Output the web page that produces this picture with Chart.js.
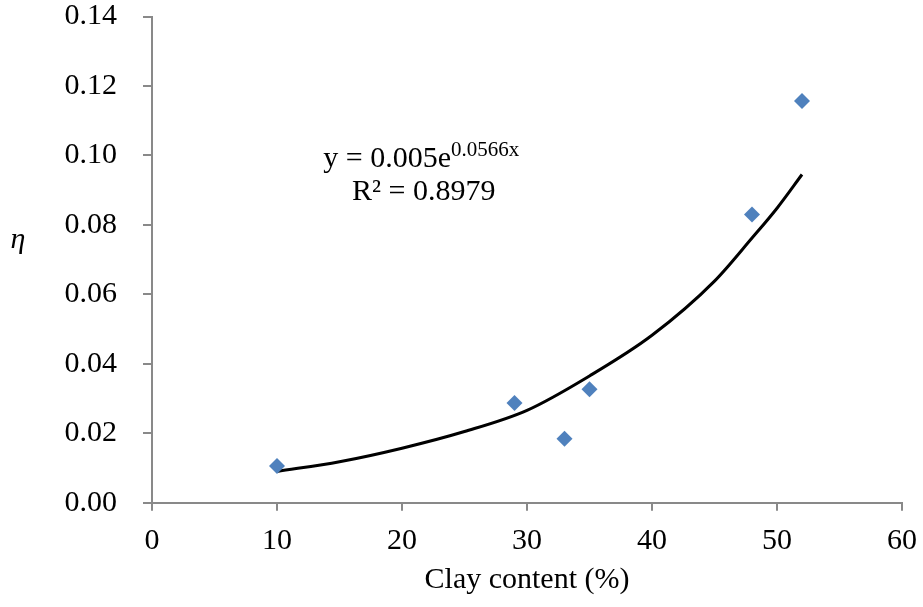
<!DOCTYPE html>
<html>
<head>
<meta charset="utf-8">
<script src="https://cdn.jsdelivr.net/npm/chart.js@4/dist/chart.umd.min.js"></script>
<style>
  html, body { margin: 0; padding: 0; background: #fff; }
  #wrap { width: 923px; height: 607px; }
</style>
</head>
<body>
<div id="wrap"><canvas id="etaChart"></canvas></div>
<script>
// measured points
const clay = [10.0, 29.0, 33.0, 35.0, 48.0, 52.0];
const eta = [0.0106, 0.0287, 0.0184, 0.0327, 0.083, 0.1157];

// trend line
const trendX = [10, 15, 20, 25, 30, 35, 40, 45, 48, 50, 52];
const trendY = [0.0090, 0.0118, 0.0157, 0.0205, 0.0266, 0.0365, 0.0482, 0.0638, 0.0762, 0.0848, 0.0945];

const eqText = 'y = 0.005e';
const eqExp = '0.0566x';
const r2Text = 'R\u00B2 = 0.8979';

const FONT = '"Liberation Serif", "Times New Roman", serif';
const FS = 30;
const AXIS_GREY = '#898989';

const ctx = document.getElementById('etaChart').getContext('2d');

// equation label + y title drawn by hand
const labels = {
    id: 'labels',
    afterDraw(chart) {
        const c = chart.ctx;
        const x = chart.scales.x, y = chart.scales.y;
        c.save();
        c.fillStyle = '#000';
        c.textBaseline = 'alphabetic';
        c.font = FS + 'px ' + FONT;
        const px = x.getPixelForValue(13.7), py = y.getPixelForValue(0.0966);
        c.textAlign = 'left';
        c.fillText(eqText, px, py);
        const w = c.measureText(eqText).width;
        c.font = '21px ' + FONT;
        c.fillText(eqExp, px + w, py - 11);
        c.font = FS + 'px ' + FONT;
        c.fillText(r2Text, x.getPixelForValue(16.0), y.getPixelForValue(0.0873));
        c.font = 'italic ' + FS + 'px ' + FONT;
        c.textAlign = 'center';
        c.textBaseline = 'middle';
        c.fillText('\u03B7', 18, 240);
        c.restore();
    }
};

new Chart(ctx, {
    type: 'scatter',
    data: {
        datasets: [{
            label: 'eta',
            data: clay.map((v, i) => ({ x: v, y: eta[i] })),
            pointStyle: 'rectRot',
            pointRadius: 8,
            pointHoverRadius: 8,
            backgroundColor: '#4F81BD',
            borderColor: '#4F81BD',
            borderWidth: 0,
            order: 1
        }, {
            label: 'trend',
            type: 'line',
            data: trendX.map((v, i) => ({ x: v, y: trendY[i] })),
            borderColor: '#000',
            borderWidth: 3,
            pointRadius: 0,
            cubicInterpolationMode: 'monotone',
            fill: false,
            order: 2
        }]
    },
    options: {
        responsive: true,
        maintainAspectRatio: false,
        animation: false,
        layout: { padding: { left: 0, right: 21, top: 16.5, bottom: 0 } },
        plugins: {
            legend: { display: false },
            tooltip: { enabled: false }
        },
        scales: {
            x: {
                type: 'linear',
                min: 0, max: 60,
                ticks: { stepSize: 10, color: '#000', font: { family: FONT, size: FS }, padding: 12, maxRotation: 0 },
                grid: { drawOnChartArea: false, drawTicks: true, tickLength: 8, color: AXIS_GREY, lineWidth: 2 },
                border: { color: AXIS_GREY, width: 2 },
                title: { display: true, text: 'Clay content (%)', color: '#000', font: { family: FONT, size: FS }, padding: { top: 4, bottom: 9 } },
                afterFit(s) { s.height = 104.3; s.paddingLeft = 0; s.paddingRight = 0; }
            },
            y: {
                min: 0, max: 0.14,
                ticks: { stepSize: 0.02, color: '#000', font: { family: FONT, size: FS }, padding: 26,
                    callback: v => v.toFixed(2) },
                grid: { drawOnChartArea: false, drawTicks: true, tickLength: 9, color: AXIS_GREY, lineWidth: 2 },
                border: { color: AXIS_GREY, width: 2 },
                afterFit(s) { s.width = 152; s.paddingTop = 0; s.paddingBottom = 0; }
            }
        }
    },
    plugins: [labels]
});
</script>
</body>
</html>
